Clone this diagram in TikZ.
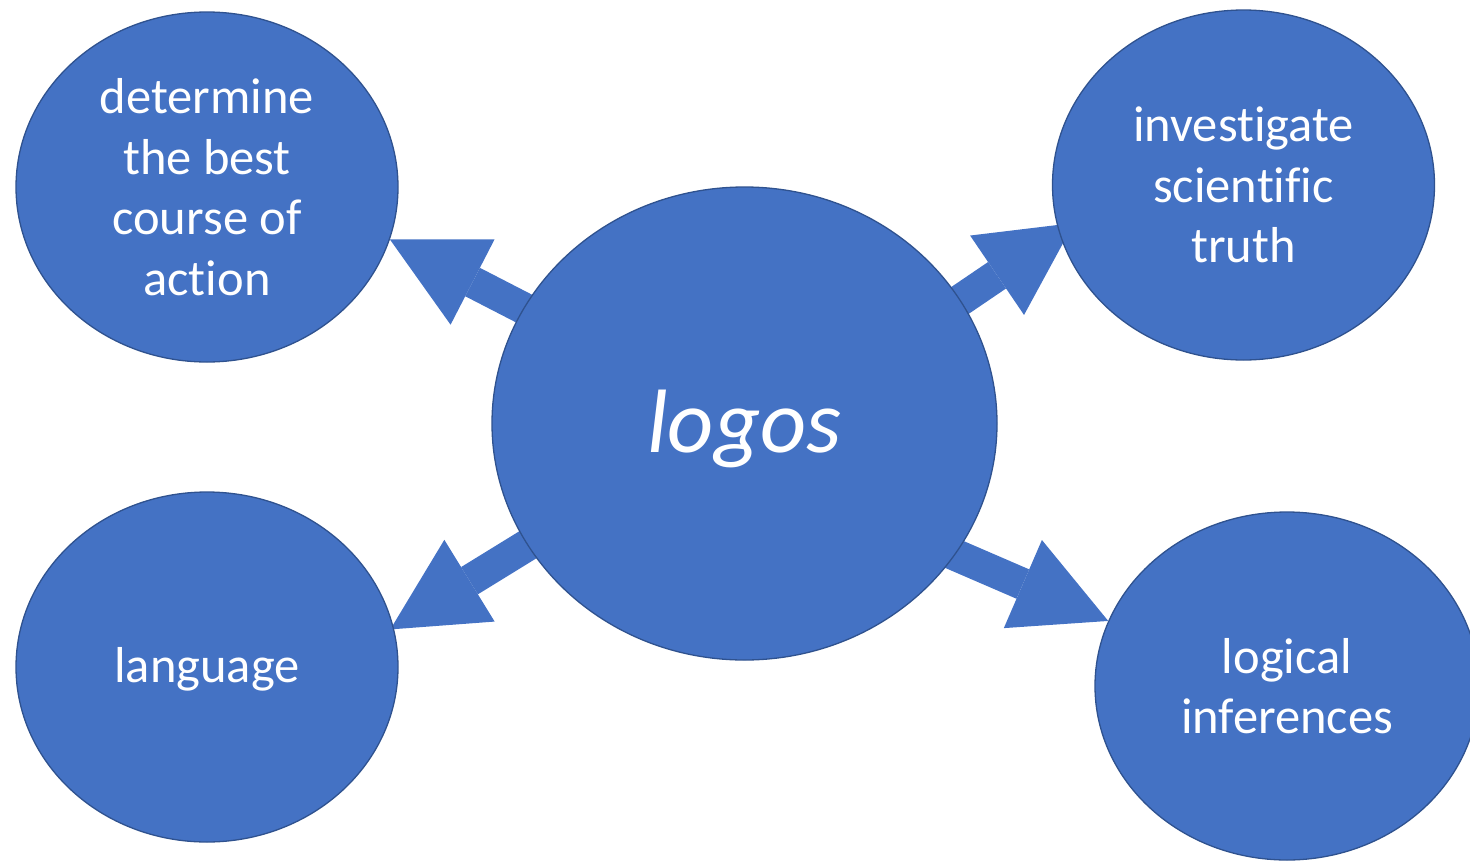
\documentclass[tikz,border=0pt]{standalone}
\usepackage{fontspec}
\setmainfont{Carlito}[Ligatures={NoCommon,NoContextual}]
\usepackage{tikz}
\usetikzlibrary{shapes.geometric, arrows.meta, backgrounds}
\definecolor{bubblefill}{HTML}{4472C4}
\definecolor{bubbleline}{HTML}{2F528F}

\begin{document}
\begin{tikzpicture}[x=1pt, y=-1pt,
        bubble/.style={ellipse, draw=bubbleline, line width=1.3pt, fill=bubblefill,
            text=white, align=center, inner sep=0pt,
            minimum width=382pt, minimum height=350pt,
            font=\fontsize{50.5}{60.5}\selectfont},
        fat/.style={draw=bubblefill, line width=32pt,
            -{Triangle[length=93pt, width=96pt, line width=0pt]}}]
            \useasboundingbox (0,0) rectangle (1470,860);
            \node at (744.5,423.5) [bubble, minimum width=505pt, minimum height=473pt,
                text height=75pt, text depth=18pt,
                font=\fontsize{90}{100}\selectfont\itshape] (lg) {logos};
            \node at (207,187) [bubble] (o1) {determine\\the best\\course of\\action};
            \node at (1243.5,185) [bubble] (o2) {investigate\\scientific\\truth};
            \node at (207,667) [bubble, text height=40pt, text depth=10pt] (o3) {language};
            \node at (1287,686) [bubble, minimum width=384pt, minimum height=348pt] (o4) {logical\\inferences};
            \coordinate (s1) at (620,358);
            \coordinate (s2) at (859,369);
            \coordinate (s3) at (612,493);
            \coordinate (s4) at (870,518);
            % tip of the upper right arrow sits under the bubble
            \coordinate (t2) at (1074,223);
            \begin{scope}[on background layer]
                \draw[fat] (s1) -- (o1.-16.6);
                \draw[fat] (s2) -- (t2);
                \draw[fat, shorten >=-4pt] (s3) -- (o3.12.9);
                \draw[fat] (s4) -- (o4.160.6);
            \end{scope}
        \end{tikzpicture}
\end{document}
